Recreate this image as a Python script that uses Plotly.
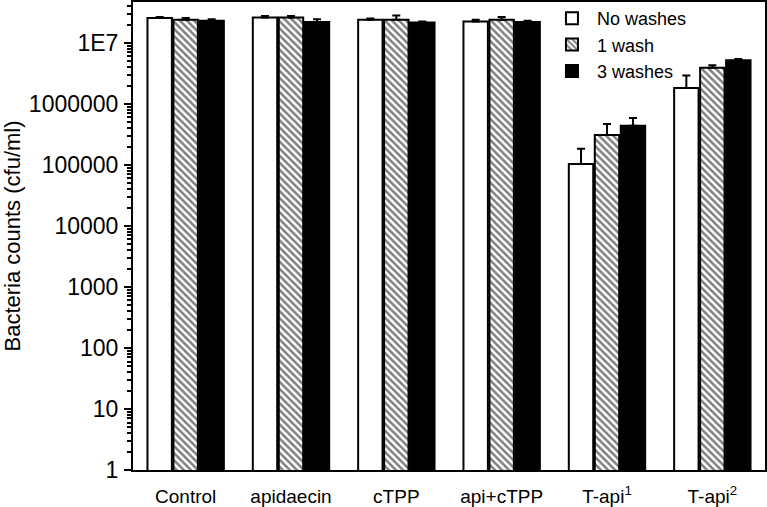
import plotly.graph_objects as go

categories = ["Control", "apidaecin", "cTPP", "api+cTPP", "T-api<sup>1</sup>", "T-api<sup>2</sup>"]
series_names = ["No washes", "1 wash", "3 washes"]

no_washes = [2.55e7, 2.6e7, 2.4e7, 2.25e7, 1.04e5, 1.83e6]
no_washes_err = [0.1e7, 0.15e7, 0.1e7, 0.15e7, 0.8e5, 1.1e6]
one_wash = [2.4e7, 2.6e7, 2.4e7, 2.4e7, 3.1e5, 3.9e6]
one_wash_err = [0.15e7, 0.15e7, 0.4e7, 0.25e7, 1.6e5, 0.4e6]
three_washes = [2.3e7, 2.2e7, 2.15e7, 2.2e7, 4.4e5, 5.2e6]
three_washes_err = [0.15e7, 0.25e7, 0.1e7, 0.1e7, 1.5e5, 0.25e6]

y_tickvals = [1, 10, 100, 1000, 10000, 100000, 1000000, 10000000]
y_ticktext = ["1", "10", "100", "1000", "10000", "100000", "1000000", "1E7"]

FONT = "Liberation Sans, Arial, sans-serif"

fig = go.Figure()

def err(vals):
    return dict(type="data", symmetric=False, array=vals, arrayminus=[0] * len(vals),
                color="black", thickness=2, width=4)

fig.add_trace(go.Bar(
    name=series_names[0], x=categories, y=no_washes, error_y=err(no_washes_err),
    marker=dict(color="white", line=dict(color="black", width=2)),
))
fig.add_trace(go.Bar(
    name=series_names[1], x=categories, y=one_wash, error_y=err(one_wash_err),
    marker=dict(color="white", line=dict(color="black", width=2),
                pattern=dict(shape="\\", size=5, solidity=0.5, fgcolor="black", bgcolor="white")),
))
fig.add_trace(go.Bar(
    name=series_names[2], x=categories, y=three_washes, error_y=err(three_washes_err),
    marker=dict(color="black", line=dict(color="black", width=2)),
))

yr = [0, 7.67]
fig.update_layout(
    width=767, height=507,
    margin=dict(l=133, r=2, t=2, b=37, autoexpand=False),
    paper_bgcolor="white", plot_bgcolor="white",
    font=dict(family=FONT, size=18, color="black"),
    barmode="group", bargap=0.26, bargroupgap=0.06,
    showlegend=True,
    legend=dict(x=0.655, y=1.026, xanchor="left", yanchor="top", yref="container",
                bgcolor="rgba(0,0,0,0)", font=dict(size=18, family=FONT),
                itemwidth=40, tracegroupgap=0),
    xaxis=dict(showline=True, linecolor="black", linewidth=2, mirror=True,
               ticks="", showgrid=False, tickfont=dict(size=19), automargin=False,
               ticklabelstandoff=8, range=[-0.5, 5.5]),
    yaxis=dict(type="log", range=yr, showline=True, linecolor="black", linewidth=2,
               mirror=True, ticks="outside", ticklen=7, tickwidth=2, tickcolor="black",
               tickvals=y_tickvals, ticktext=y_ticktext, showgrid=False,
               tickfont=dict(size=23), automargin=False, ticklabelstandoff=1,
               minor=dict(ticks="outside", ticklen=4, tickwidth=1.5, tickcolor="black",
                          dtick="D1", showgrid=False),
               title=dict(text="Bacteria counts (cfu/ml)", font=dict(size=22), standoff=14)),
    yaxis2=dict(type="log", range=yr, overlaying="y", side="right", showline=True,
                linecolor="black", linewidth=2, ticks="inside", ticklen=7, tickwidth=2,
                tickcolor="black", tickvals=y_tickvals, showticklabels=False, showgrid=False,
                automargin=False,
                minor=dict(ticks="inside", ticklen=4, tickwidth=1.5, tickcolor="black",
                           dtick="D1", showgrid=False)),
)

fig.write_html("out.html", config={"displayModeBar": False},
               post_script="document.body.style.margin='0';")
